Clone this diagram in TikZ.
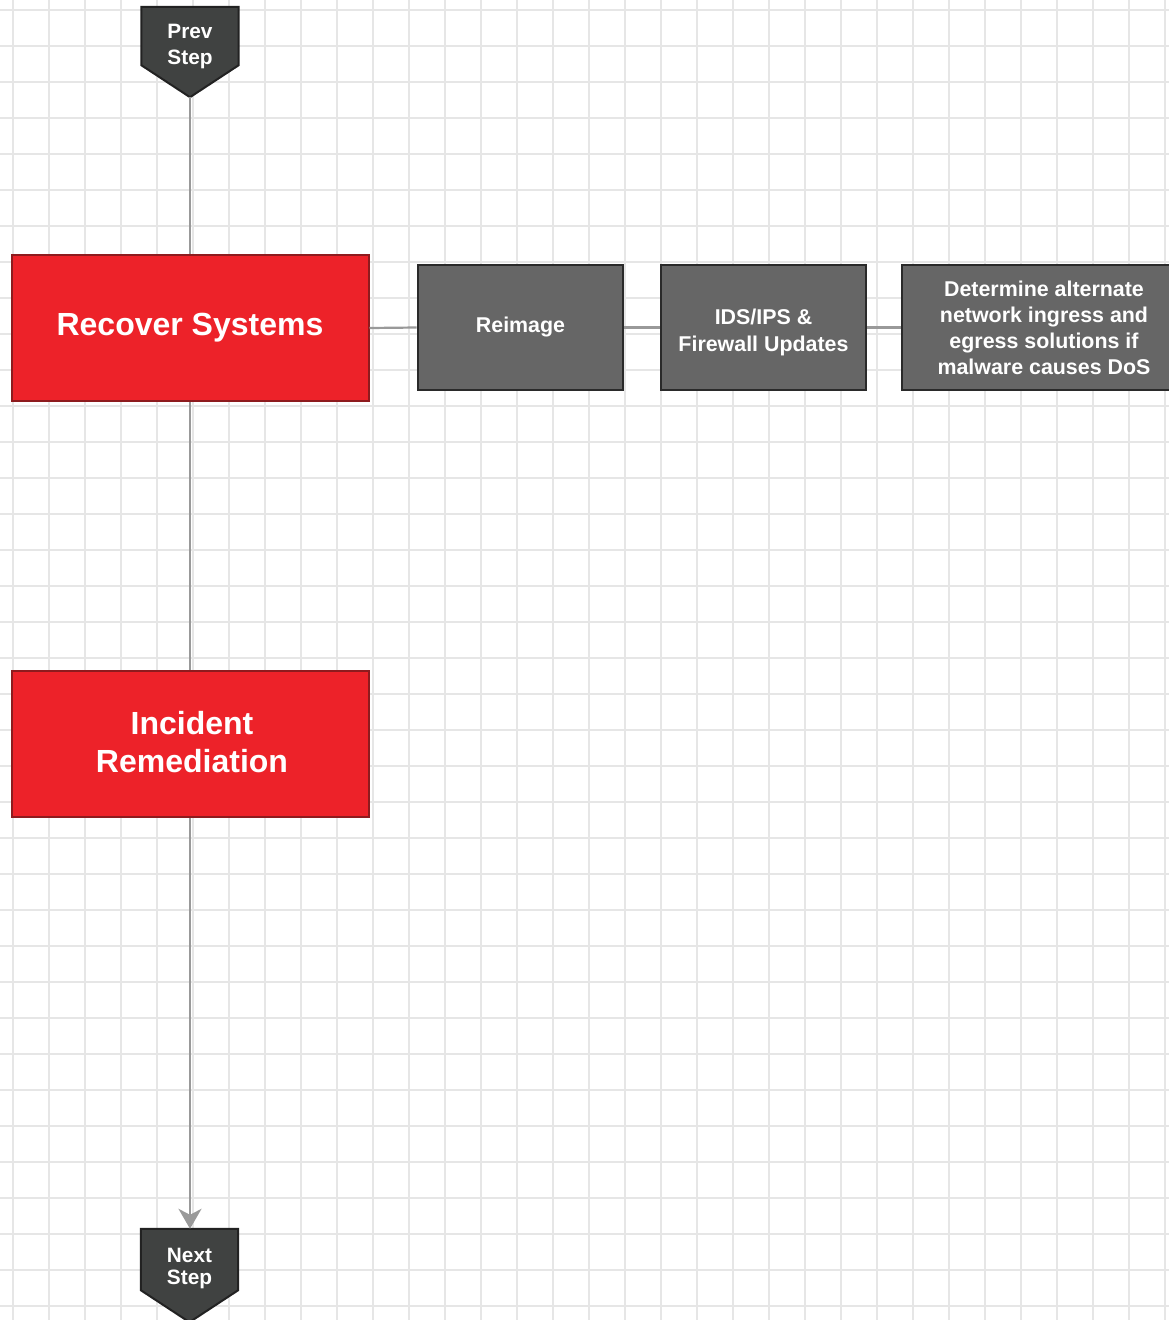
\documentclass[tikz,border=0pt]{standalone}
\usepackage{fontspec}
\setmainfont{Liberation Sans}
\usetikzlibrary{arrows.meta,calc}
\definecolor{gridc}{HTML}{E6E6E6}
\definecolor{redfill}{HTML}{ED2229}
\definecolor{redline}{HTML}{8E1B1E}
\definecolor{grayfill}{HTML}{666666}
\definecolor{grayline}{HTML}{2A2A2A}
\definecolor{darkfill}{HTML}{404241}
\definecolor{darkline}{HTML}{222222}
\definecolor{connc}{HTML}{999999}
\begin{document}
\begin{tikzpicture}[x=1pt,y=-1pt,
  gridline/.style={draw=gridc,line width=1.6},
  redbox/.style={rectangle,draw=redline,fill=redfill,line width=2,text=white,
    font=\fontsize{32}{38}\selectfont\bfseries,align=center,
    minimum width=357,minimum height=146,inner sep=0},
  graybox/.style={rectangle,draw=grayline,fill=grayfill,line width=2.8,text=white,
    font=\fontsize{21.4}{26}\selectfont\bfseries,align=center,
    minimum height=125,inner sep=0},
  shapebox/.style={rectangle,draw=none,minimum width=97,minimum height=58,inner sep=0},
  shapetxt/.style={text=white,font=\fontsize{20.8}{25}\selectfont\bfseries,align=center,inner sep=0},
  pent/.style={draw=darkline,fill=darkfill,line width=2,line join=miter},
  conn/.style={draw=connc,line width=2.2}]
\useasboundingbox (0,0) rectangle (1169,1320);
\clip (0,0) rectangle (1169,1320);
\fill[white] (0,0) rectangle (1169,1320);
\foreach \x in {13,49,...,1169} \draw[gridline] (\x,0) -- (\x,1320);
\foreach \y in {10,46,...,1320} \draw[gridline] (0,\y) -- (1169,\y);

% nodes
\node[shapebox] (prevbox) at (190,36) {};
\coordinate (prevtip) at ($(prevbox.south)+(0,32)$);
\draw[pent] (prevbox.north west) -- (prevbox.north east) -- (prevbox.south east) -- (prevtip) -- (prevbox.south west) -- cycle;
\node[shapetxt] (prevtxt) at (190,46.5) {Prev\\Step};

\node[redbox] (recover) at (190,328) {Recover Systems};
\node[redbox] (incident) at (190,744) {};
\node[text=white,font=\fontsize{32}{38}\selectfont\bfseries,align=center,inner sep=0] (incidenttxt) at (192,742) {Incident\\Remediation};

\node[graybox,minimum width=205] (reimage) at (520.5,327.5) {Reimage};
\node[graybox,minimum width=205] (ids) at (763.5,327.5) {};
\node[text=white,font=\fontsize{21.4}{27}\selectfont\bfseries,align=center,inner sep=0] (idstxt) at (763.5,332) {IDS/IPS \&\\Firewall Updates};
\node[graybox,minimum width=284] (det) at (1044,327.5) {Determine alternate\\network ingress and\\egress solutions if\\malware causes DoS};

\node[shapebox,minimum height=61] (nextbox) at (189.5,1259.5) {};
\coordinate (nexttip) at ($(nextbox.south)+(0,32)$);
\draw[pent] (nextbox.north west) -- (nextbox.north east) -- (nextbox.south east) -- (nexttip) -- (nextbox.south west) -- cycle;
\node[text=white,font=\fontsize{20.8}{22}\selectfont\bfseries,align=center,inner sep=0] (nexttxt) at (189.5,1268.5) {Next\\Step};

% connectors
\draw[conn] (prevtip) -- (recover.north);
\draw[conn] (recover.east) -- (reimage.west);
\draw[conn] (reimage.east) -- (ids.west);
\draw[conn] (ids.east) -- (det.west);
\draw[conn] (recover.south) -- (incident.north);
\draw[conn,-{Stealth[length=20,width=23,inset=6]}] (incident.south) -- (incident.south |- nextbox.north);
\end{tikzpicture}
\end{document}
